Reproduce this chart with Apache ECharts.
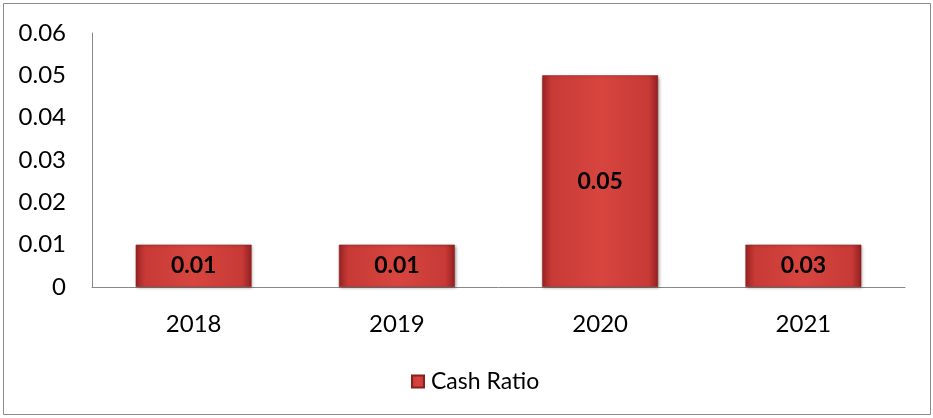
<!DOCTYPE html>
<html>
<head>
<meta charset="utf-8">
<script src="https://cdn.jsdelivr.net/npm/echarts@6/dist/echarts.min.js"></script>
<style>
html,body{margin:0;padding:0;background:#fff;}
#main{width:933px;height:418px;}
</style>
</head>
<body>
<div id="main"></div>
<script>
const categories = ["2018", "2019", "2020", "2021"];
const cashRatio = [0.01, 0.01, 0.05, 0.01];
const cashRatioLabels = ["0.01", "0.01", "0.05", "0.03"];
const yTicks = [0, 0.01, 0.02, 0.03, 0.04, 0.05, 0.06];

const FONT = "Lato";
const barFill = new echarts.graphic.LinearGradient(0, 0, 1, 0, [
  {offset: 0, color: "#9c2424"},
  {offset: 0.08, color: "#c73a36"},
  {offset: 0.5, color: "#d8453f"},
  {offset: 0.92, color: "#c73a36"},
  {offset: 1, color: "#932020"}
]);

const chart = echarts.init(document.getElementById("main"), null, {renderer: "canvas"});
chart.setOption({
  animation: false,
  backgroundColor: "#ffffff",
  graphic: [{
    type: "rect",
    shape: {x: 3.5, y: 3.5, width: 927, height: 411},
    style: {fill: "none", stroke: "#8c8c8c", lineWidth: 1},
    silent: true
  }],
  grid: {left: 92, right: 28, top: 33, bottom: 131},
  legend: {
    data: ["Cash Ratio"],
    left: 406,
    top: 365,
    itemWidth: 12,
    itemHeight: 12,
    itemGap: 8,
    icon: "rect",
    textStyle: {fontFamily: FONT, fontSize: 23, color: "#000", padding: [0,0,0,2]}
  },
  xAxis: {
    type: "category",
    data: categories,
    axisLine: {lineStyle: {color: "#888888", width: 1}},
    axisTick: {show: false},
    axisLabel: {fontFamily: FONT, fontSize: 24, color: "#000", margin: 25}
  },
  yAxis: {
    type: "value",
    min: yTicks[0],
    max: yTicks[yTicks.length - 1],
    interval: 0.01,
    axisLine: {show: true, lineStyle: {color: "#888888", width: 1}},
    axisTick: {show: false},
    splitLine: {show: false},
    axisLabel: {fontFamily: FONT, fontSize: 24, color: "#000", margin: 26,
      formatter: v => (Math.round(v * 100) / 100).toString()}
  },
  series: [{
    name: "Cash Ratio",
    type: "bar",
    data: cashRatio,
    barWidth: "57%",
    itemStyle: {
      color: barFill,
      borderColor: "#8a1f1f",
      borderWidth: 0.5,
      shadowColor: "rgba(0,0,0,0.35)",
      shadowBlur: 3,
      shadowOffsetX: 1,
      shadowOffsetY: 1
    },
    label: {
      show: true,
      position: "inside",
      fontFamily: FONT,
      fontWeight: "bold",
      fontSize: 23,
      color: "#000",
      formatter: p => cashRatioLabels[p.dataIndex]
    }
  }]
});
</script>
</body>
</html>
